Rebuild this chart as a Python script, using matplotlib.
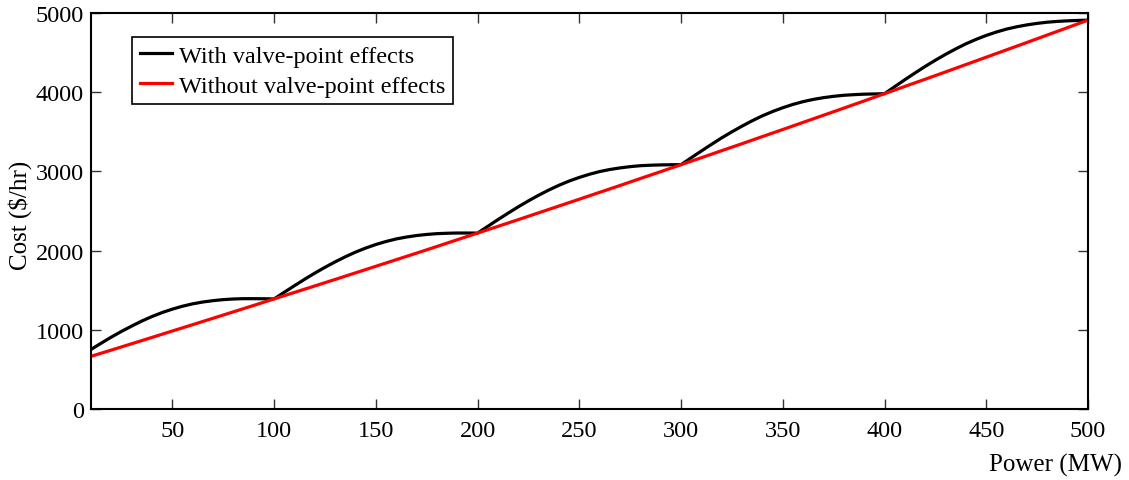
import numpy as np
import matplotlib
matplotlib.use('Agg')
from matplotlib import pyplot as plt

# power output (MW)
power_lin = [10, 20, 30, 40, 50, 60, 70, 80, 90, 100,
             110, 120, 130, 140, 150, 160, 170, 180, 190, 200,
             210, 220, 230, 240, 250, 260, 270, 280, 290, 300,
             310, 320, 330, 340, 350, 360, 370, 380, 390, 400,
             410, 420, 430, 440, 450, 460, 470, 480, 490, 500]
# cost without valve-point effects ($/hr)
cost_smooth = [665, 744, 824, 904, 985, 1065, 1146, 1227, 1308, 1390,
               1472, 1554, 1636, 1719, 1802, 1885, 1968, 2052, 2137, 2221,
               2306, 2391, 2477, 2563, 2649, 2736, 2822, 2910, 2997, 3085,
               3173, 3262, 3350, 3440, 3529, 3619, 3709, 3799, 3890, 3981,
               4073, 4164, 4256, 4349, 4442, 4535, 4628, 4722, 4816, 4910]

# power output for the valve-point curve (MW), 5 MW steps
power_vp = list(range(10, 501, 5))
# cost with valve-point effects ($/hr)
cost_vp = [752, 831, 908, 980, 1047, 1111, 1168, 1218, 1261, 1298,
           1328, 1351, 1368, 1381, 1389, 1393, 1393, 1392, 1390,
           1474, 1557, 1638, 1716, 1789, 1858, 1922, 1981, 2032, 2077,
           2115, 2147, 2171, 2190, 2204, 2214, 2219, 2222, 2222, 2221,
           2306, 2391, 2473, 2553, 2628, 2699, 2765, 2825, 2878, 2924,
           2964, 2998, 3024, 3044, 3060, 3072, 3078, 3082, 3084, 3085,
           3172, 3258, 3342, 3424, 3500, 3572, 3640, 3702, 3756, 3804,
           3846, 3881, 3909, 3931, 3948, 3961, 3969, 3975, 3978, 3981,
           4070, 4158, 4243, 4326, 4404, 4478, 4547, 4611, 4667, 4717,
           4760, 4797, 4826, 4850, 4869, 4884, 4894, 4901, 4906, 4910]

xticks = [50, 100, 150, 200, 250, 300, 350, 400, 450, 500]
yticks = [0, 1000, 2000, 3000, 4000, 5000]

plt.rcParams['font.family'] = ['Liberation Serif', 'DejaVu Serif']
plt.rcParams['font.size'] = 18

fig = plt.figure(figsize=(11.29, 4.81), dpi=100)
ax = fig.add_axes([91 / 1129, 71 / 481, 997 / 1129, 396 / 481])

ax.plot(power_vp, cost_vp, color='black', lw=2.3, label='With valve-point effects')
ax.plot(power_lin, cost_smooth, color='red', lw=2.3, label='Without valve-point effects')

ax.set_xlim(10, 500)
ax.set_ylim(0, 5000)
ax.set_xticks(xticks)
ax.set_yticks(yticks)
ax.tick_params(direction='in', length=7, width=1, top=True, right=True, colors='#333333',
               labelcolor='black', labelsize=17.5)
ax.tick_params(axis='x', pad=8)
ax.tick_params(axis='y', pad=5)
for s in ax.spines.values():
    s.set_linewidth(1.5)

leg = ax.legend(loc='upper left', bbox_to_anchor=(0.041, 0.94), fancybox=False,
                edgecolor='black', framealpha=1, handlelength=1.35, borderpad=0.32,
                labelspacing=0.33, handletextpad=0.25, borderaxespad=0, fontsize=17.5)
leg.get_frame().set_linewidth(1.2)

fig.text(1122 / 1129, 1 - 465 / 481, 'Power (MW)', ha='right', va='center')
fig.text(20 / 1129, 1 - 215 / 481, r'Cost (\$/hr)', ha='center', va='center', rotation=90)

fig.savefig('out.png', dpi=100)
